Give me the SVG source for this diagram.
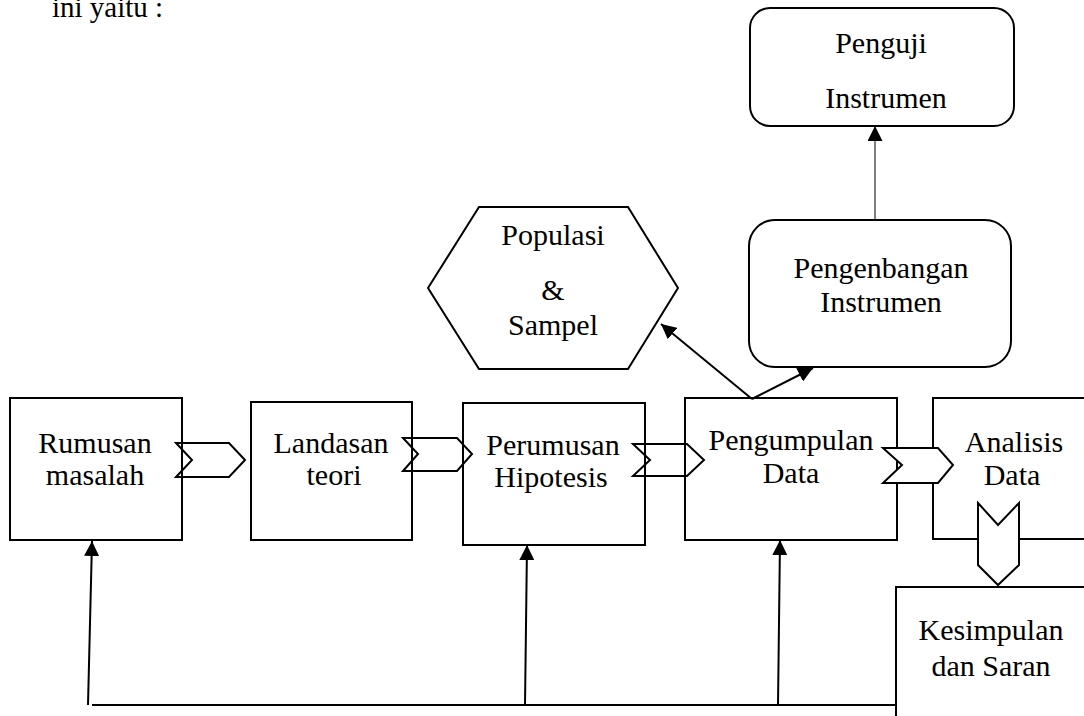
<svg xmlns="http://www.w3.org/2000/svg" width="1084" height="716" viewBox="0 0 1084 716">
<style>
.box{fill:none;stroke:#000;stroke-width:2}
.wbox{fill:#fff;stroke:#000;stroke-width:2}
.chev{fill:none;stroke:#000;stroke-width:2;stroke-linejoin:miter}
.chevw{fill:#fff;stroke:#000;stroke-width:2;stroke-linejoin:miter}
.t{font-family:'Liberation Serif','DejaVu Serif',serif;font-size:30px;fill:#000;text-anchor:middle}
.ts{font-family:'Liberation Serif','DejaVu Serif',serif;font-size:29px;fill:#000;text-anchor:start}
.ln{fill:none;stroke:#000;stroke-width:2}
.thin{fill:none;stroke:#000;stroke-width:1}
</style>
<defs>
<marker id="ahL" viewBox="0 0 10 10" refX="10" refY="5" markerWidth="15" markerHeight="15" markerUnits="userSpaceOnUse" orient="auto">
<path d="M0,0 L10,5 L0,10 z" fill="#000"/>
</marker>
</defs>
<text class="ts" x="52" y="17">ini yaitu :</text>

<g id="rumusan">
<rect class="box" x="10" y="398" width="172" height="142"/>
<text class="t" x="95" y="453">Rumusan</text>
<text class="t" x="95" y="485">masalah</text>
</g>
<g id="landasan">
<rect class="box" x="251" y="402" width="161" height="138"/>
<text class="t" x="331" y="453">Landasan</text>
<text class="t" x="334" y="485">teori</text>
</g>
<g id="perumusan">
<rect class="box" x="463" y="403" width="182" height="142"/>
<text class="t" x="553" y="455">Perumusan</text>
<text class="t" x="551" y="487">Hipotesis</text>
</g>
<g id="pengumpulan">
<rect class="box" x="685" y="398" width="212" height="142"/>
<text class="t" x="791" y="450">Pengumpulan</text>
<text class="t" x="791" y="483">Data</text>
</g>
<g id="analisis">
<rect class="box" x="933" y="398" width="160" height="141"/>
<text class="t" x="1014" y="452">Analisis</text>
<text class="t" x="1012" y="485">Data</text>
</g>
<g id="kesimpulan">
<rect class="wbox" x="896" y="587" width="200" height="140"/>
<text class="t" x="991" y="640">Kesimpulan</text>
<text class="t" x="991" y="676">dan Saran</text>
</g>
<g id="populasi">
<polygon class="box" points="479,207 628,207 678,288 628,369 479,369 428,288"/>
<text class="t" x="553" y="245">Populasi</text>
<text class="t" x="553" y="300">&amp;</text>
<text class="t" x="553" y="335">Sampel</text>
</g>
<g id="pengembangan">
<rect class="box" x="749" y="220" width="262" height="147" rx="26" ry="26"/>
<text class="t" x="881" y="278">Pengenbangan</text>
<text class="t" x="881" y="312">Instrumen</text>
</g>
<g id="penguji">
<rect class="box" x="750" y="8" width="264" height="118" rx="20" ry="20"/>
<text class="t" x="881" y="53">Penguji</text>
<text class="t" x="886" y="108">Instrumen</text>
</g>

<g id="connectors">
<polygon class="chev" points="176,443 229,443 245,460 229,477 176,477 192,460"/>
<polygon class="chev" points="403,438 457,438 472,454 457,471 403,471 418,454"/>
<polygon class="chev" points="633,444 687,444 704,460 687,476 633,476 650,460"/>
<polygon class="chevw" points="883,448 938,448 953,465 938,483 883,483 902,465"/>
<polygon class="chevw" points="978,503 998,525 1019,503 1019,565 998,585 978,565"/>
<line class="ln" x1="92" y1="705" x2="896" y2="705"/>
<line class="ln" x1="88" y1="705" x2="92" y2="541" marker-end="url(#ahL)"/>
<line class="ln" x1="525" y1="705" x2="527" y2="545" marker-end="url(#ahL)"/>
<line class="ln" x1="778" y1="705" x2="780" y2="540" marker-end="url(#ahL)"/>
<line class="ln" x1="752" y1="399" x2="661" y2="324" marker-end="url(#ahL)"/>
<line class="ln" x1="752" y1="399" x2="813" y2="368" marker-end="url(#ahL)"/>
<line class="thin" x1="875" y1="220" x2="875" y2="126" marker-end="url(#ahL)"/>
</g>
</svg>
